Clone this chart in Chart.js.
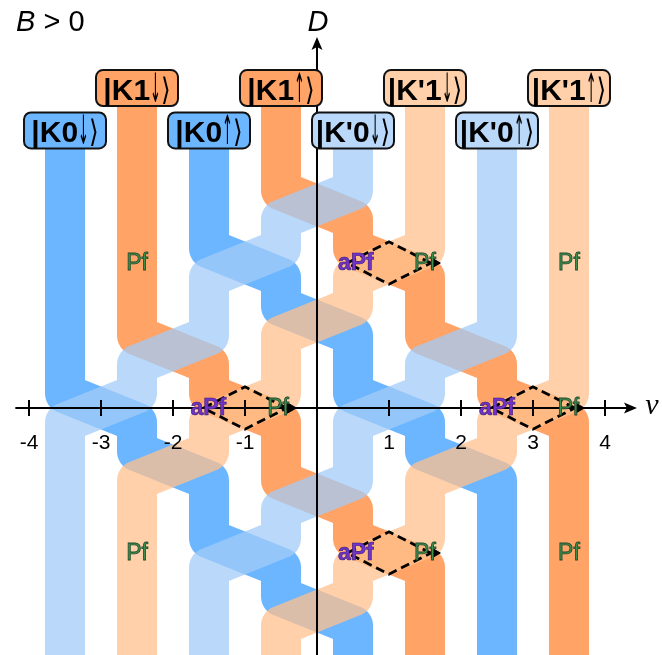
<!DOCTYPE html>
<html>
<head>
<meta charset="utf-8">
<script src="https://cdn.jsdelivr.net/npm/chart.js@4.4.1/dist/chart.umd.min.js"></script>
<style>
  html, body { margin: 0; padding: 0; background: #ffffff; }
  #chart { display: block; }
</style>
</head>
<body>
<canvas id="chart" width="662" height="655"></canvas>
<script>
// Landau levels, left to right at large positive D: [valley, orbital, spin]
const valley       = ['K', 'K', 'K', 'K', "K'", "K'", "K'", "K'"];
const orbital      = [0, 1, 0, 1, 0, 1, 0, 1];
const spin         = ['\u2193', '\u2193', '\u2191', '\u2191', '\u2193', '\u2193', '\u2191', '\u2191'];
// filling position (nu) of each level at the top of the diagram
const startNu      = [-3.5, -2.5, -1.5, -0.5, 0.5, 1.5, 2.5, 3.5];
// K levels move to higher nu as D drops, K' levels to lower nu
const hopDirection = [1, 1, 1, 1, -1, -1, -1, -1];
// D values at which each level swaps with its neighbour
const crossingD = [
  [0, -2, -5, -7],
  [2, 0, -3, -5],
  [5, 3, 0, -2],
  [7, 5, 2, 0],
  [7, 5, 2, 0],
  [5, 3, 0, -2],
  [2, 0, -3, -5],
  [0, -2, -5, -7]
];
// D where each band starts under its label (by orbital index) and where it leaves the plot
const bandTopD    = [8.95, 10.41];
const bandBottomD = -9;

// axis ticks and ranges
const nuTicks = [-4, -3, -2, -1, 1, 2, 3, 4];
const nuRange = [-4.403, 4.792];
const dRange  = [-8.517, 14.069];
const nuAxisStart = -4.19, nuAxisTip = 4.444, dAxisTip = 12.79;

// phase labels
const phaseText = ['Pf', 'Pf', 'aPf', 'Pf', 'aPf', 'Pf', 'aPf', 'Pf', 'Pf', 'aPf', 'Pf', 'Pf'];
const phaseNu   = [-2.5, 3.5, 0.54, 1.5, -1.51, -0.54, 2.5, 3.49, -2.5, 0.54, 1.5, 3.5];
const phaseD    = [5, 5, 5, 5, 0, 0, 0, 0, -5, -5, -5, -5];

// aPf / Pf transitions (dashed outlines)
const transitionNu = [1, -1, 3, 1];
const transitionD  = [5, 0, 0, -5];
const outlineHalfNu = 0.58, outlineHalfD = 0.73;

const solid = { 0: '#6cb6ff', 1: '#ffa366' };
const pale  = { 0: '#b9d8fa', 1: '#ffd0aa' };
const paleStroke = { 0: 'rgba(162,203,248,0.75)', 1: 'rgba(255,192,142,0.75)' };

function bandPoints(i) {
  let nu = startNu[i];
  const pts = [{ x: nu, y: bandTopD[orbital[i]] }];
  for (const d of crossingD[i]) {
    pts.push({ x: nu, y: d + 0.5 });
    nu += hopDirection[i];
    pts.push({ x: nu, y: d - 0.5 });
  }
  pts.push({ x: nu, y: bandBottomD });
  return pts;
}

const datasets = [];
valley.forEach((v, i) => {
  const isK = v === 'K';
  datasets.push({
    label: v + orbital[i] + spin[i],
    data: bandPoints(i),
    showLine: true,
    borderColor: isK ? solid[orbital[i]] : paleStroke[orbital[i]],
    borderWidth: 40,
    borderJoinStyle: 'round',
    borderCapStyle: 'butt',
    pointRadius: 0,
    tension: 0,
    order: isK ? 4 : 3
  });
});

transitionNu.forEach((nu, k) => {
  const d = transitionD[k];
  datasets.push({
    label: 'transition ' + k,
    data: [
      { x: nu + outlineHalfNu, y: d },
      { x: nu, y: d + outlineHalfD },
      { x: nu - outlineHalfNu, y: d },
      { x: nu, y: d - outlineHalfD },
      { x: nu + outlineHalfNu, y: d }
    ],
    showLine: true,
    borderColor: '#000000',
    borderWidth: 2.8,
    borderDash: [9, 5],
    pointRadius: 0,
    tension: 0,
    order: 2
  });
});

datasets.push({
  label: 'transition arrows',
  data: transitionNu.map((nu, k) => ({ x: nu + outlineHalfNu + 0.05, y: transitionD[k] })),
  showLine: false,
  pointStyle: 'triangle',
  rotation: 90,
  pointRadius: 6,
  backgroundColor: '#000000',
  borderColor: '#000000',
  borderWidth: 1,
  order: 1
});

const overlay = {
  id: 'overlay',
  afterDatasetsDraw(chart) {
    const ctx = chart.ctx;
    const xs = chart.scales.x, ys = chart.scales.y;
    const x0 = xs.getPixelForValue(0), y0 = ys.getPixelForValue(0);
    ctx.save();

    // axes
    ctx.strokeStyle = '#000';
    ctx.fillStyle = '#000';
    ctx.lineWidth = 2;
    const xTip = xs.getPixelForValue(nuAxisTip);
    ctx.beginPath();
    ctx.moveTo(xs.getPixelForValue(nuAxisStart), y0);
    ctx.lineTo(xTip - 8, y0);
    ctx.stroke();
    ctx.beginPath();
    ctx.moveTo(xTip, y0);
    ctx.lineTo(xTip - 13, y0 - 5.5);
    ctx.lineTo(xTip - 10, y0);
    ctx.lineTo(xTip - 13, y0 + 5.5);
    ctx.closePath();
    ctx.fill();

    const yTip = ys.getPixelForValue(dAxisTip);
    ctx.beginPath();
    ctx.moveTo(x0, chart.height);
    ctx.lineTo(x0, yTip + 8);
    ctx.stroke();
    ctx.beginPath();
    ctx.moveTo(x0, yTip);
    ctx.lineTo(x0 - 5.5, yTip + 13);
    ctx.lineTo(x0, yTip + 10);
    ctx.lineTo(x0 + 5.5, yTip + 13);
    ctx.closePath();
    ctx.fill();

    // ticks and tick labels
    ctx.font = '21px "Liberation Sans", Arial, sans-serif';
    ctx.textAlign = 'center';
    ctx.textBaseline = 'middle';
    nuTicks.forEach(v => {
      const px = xs.getPixelForValue(v);
      ctx.beginPath();
      ctx.moveTo(px, y0 - 8);
      ctx.lineTo(px, y0 + 8);
      ctx.stroke();
      ctx.fillText(String(v), px, y0 + 35);
    });

    // axis titles
    ctx.textAlign = 'left';
    ctx.textBaseline = 'alphabetic';
    ctx.font = 'italic 29px "Liberation Sans", Arial, sans-serif';
    ctx.fillText('B', 16, 31);
    const bw = ctx.measureText('B').width;
    ctx.font = '29px "Liberation Sans", Arial, sans-serif';
    ctx.fillText(' > 0', 16 + bw, 31);

    ctx.textAlign = 'center';
    ctx.font = 'italic 29px "Liberation Sans", Arial, sans-serif';
    ctx.fillText('D', x0 + 1, 31);
    ctx.font = 'italic 30px "Liberation Serif", "DejaVu Serif", serif';
    ctx.fillText('\u03BD', 652, y0 + 6);

    // phase labels
    ctx.textBaseline = 'middle';
    phaseText.forEach((t, k) => {
      const px = xs.getPixelForValue(phaseNu[k]);
      const py = ys.getPixelForValue(phaseD[k]);
      if (t === 'aPf') {
        ctx.font = 'bold 23px "Liberation Sans", Arial, sans-serif';
        ctx.fillStyle = '#6f33c8';
        ctx.strokeStyle = '#3b1a6e';
        ctx.lineWidth = 0.6;
        ctx.fillText(t, px, py + 1);
        ctx.strokeText(t, px, py + 1);
      } else {
        ctx.font = '23px "Liberation Sans", Arial, sans-serif';
        ctx.fillStyle = '#3d8f50';
        ctx.strokeStyle = '#1f4a2a';
        ctx.lineWidth = 0.8;
        ctx.fillText(t, px, py + 1);
        ctx.strokeText(t, px, py + 1);
      }
    });

    // level labels: |K0↓⟩ with a bold body, tall narrow arrow and thin bracket
    const boldFont = 'bold 30px "Liberation Sans", Arial, sans-serif';
    const arrowFont = '31px "DejaVu Sans", sans-serif';
    const ketFont = '31px "DejaVu Sans", sans-serif';
    valley.forEach((v, i) => {
      const cx = xs.getPixelForValue(startNu[i]);
      const bottom = ys.getPixelForValue(bandTopD[orbital[i]]);
      const w = 82, h = 36;
      const left = cx - w / 2, top = bottom - h;
      ctx.beginPath();
      ctx.roundRect(left, top, w, h, 7);
      ctx.fillStyle = v === 'K' ? solid[orbital[i]] : pale[orbital[i]];
      ctx.fill();
      ctx.lineWidth = 2;
      ctx.strokeStyle = '#111';
      ctx.stroke();

      const parts = [
        { t: '|' + v + orbital[i], f: boldFont, sx: 1, sy: 1, dy: 0 },
        { t: spin[i], f: arrowFont, sx: 0.42, sy: 1.3, dy: 2 },
        { t: '\u27E9', f: ketFont, sx: 0.8, sy: 1, dy: 0 }
      ];
      let total = 0;
      parts.forEach(p => { ctx.font = p.f; p.w = ctx.measureText(p.t).width * p.sx; total += p.w; });
      let x = cx - total / 2;
      const base = top + 29.5;
      ctx.fillStyle = '#000';
      ctx.textAlign = 'left';
      ctx.textBaseline = 'alphabetic';
      parts.forEach(p => {
        ctx.save();
        ctx.font = p.f;
        ctx.translate(x, base + p.dy);
        ctx.scale(p.sx, p.sy);
        ctx.fillText(p.t, 0, 0);
        ctx.restore();
        x += p.w;
      });
    });

    ctx.restore();
  }
};

new Chart(document.getElementById('chart'), {
  type: 'scatter',
  data: { datasets },
  options: {
    responsive: false,
    maintainAspectRatio: false,
    animation: false,
    events: [],
    layout: { padding: 0, autoPadding: false },
    plugins: { legend: { display: false }, tooltip: { enabled: false } },
    scales: {
      x: { type: 'linear', min: nuRange[0], max: nuRange[1], display: false },
      y: { type: 'linear', min: dRange[0], max: dRange[1], display: false }
    }
  },
  plugins: [overlay]
});
</script>
</body>
</html>
